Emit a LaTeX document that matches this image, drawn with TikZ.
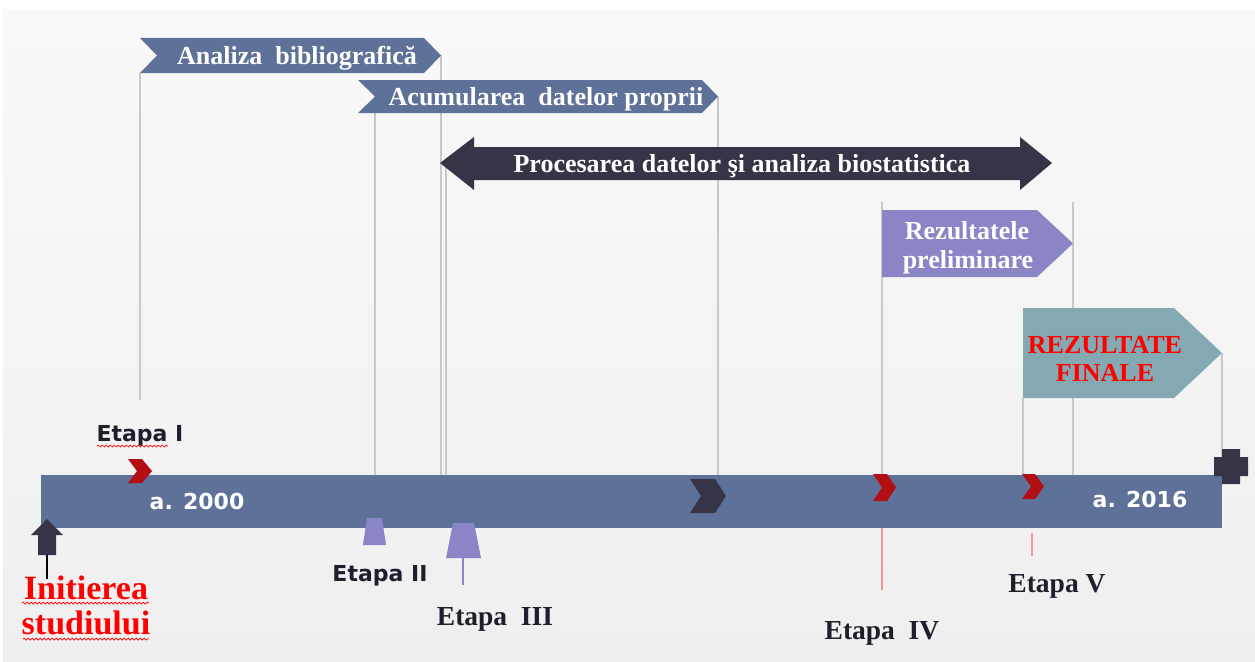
\documentclass[tikz,border=0pt]{standalone}
\usepackage{fontspec}
\setmainfont{Liberation Serif}
\newfontfamily\dvs{DejaVu Sans}
\usetikzlibrary{decorations.pathmorphing}
\definecolor{barblue}{RGB}{94,113,152}
\definecolor{darkc}{RGB}{54,52,70}
\definecolor{lav}{RGB}{138,133,199}
\definecolor{teal}{RGB}{132,169,178}
\definecolor{redc}{RGB}{178,14,20}
\definecolor{grayl}{RGB}{200,200,200}
\definecolor{pinkl}{RGB}{244,150,150}
\definecolor{txtd}{RGB}{30,30,44}
\begin{document}
\begin{tikzpicture}[x=1pt,y=-1pt,
  serifw/.style={font=\fontsize{26}{29}\selectfont\bfseries, text=white, anchor=base, inner sep=0pt},
  serifr/.style={font=\fontsize{26}{29}\selectfont\bfseries, text=red, anchor=base, inner sep=0pt},
  etsans/.style={font=\dvs\bfseries\fontsize{22}{24}\selectfont, text=txtd, anchor=base, inner sep=0pt},
  yearlbl/.style={font=\dvs\bfseries\fontsize{22}{24}\selectfont, text=white, anchor=base, inner sep=0pt},
  etserif/.style={font=\fontsize{27.5}{30}\selectfont\bfseries, text=txtd, anchor=base, inner sep=0pt},
  initlbl/.style={font=\fontsize{34}{36}\selectfont\bfseries, text=red, anchor=base, inner sep=0pt},
  guide/.style={draw=grayl, line width=1.2pt},
  pinkguide/.style={draw=pinkl, line width=1.2pt},
  wavy/.style={draw=red, line width=0.7pt, decorate, decoration={snake, segment length=4pt, amplitude=1pt}}
]
\useasboundingbox (0,0) rectangle (1255,661);
\fill[white] (0,0) rectangle (1255,661);
\shade[top color={rgb,255:red,249;green,249;blue,249}, bottom color={rgb,255:red,239;green,239;blue,239}] (3,10) rectangle (1255,661);

% coordinates for guide lines
\coordinate (anaL) at (140,73);   \coordinate (anaLe) at (140,400);
\coordinate (anaR) at (441,55);   \coordinate (anaRe) at (441,475);
\coordinate (acuL) at (375,113);  \coordinate (acuLe) at (375,475);
\coordinate (acuR) at (718,97);   \coordinate (acuRe) at (718,475);
\coordinate (proL) at (446,163);  \coordinate (proLe) at (446,475);
\coordinate (rezL) at (882,202);  \coordinate (rezLe) at (882,475);
\coordinate (rezR) at (1073,202); \coordinate (rezRe) at (1073,475);
\coordinate (finL) at (1023,398); \coordinate (finLe) at (1023,475);
\coordinate (finR) at (1222,353); \coordinate (finRe) at (1222,457);
\coordinate (e4a) at (882,528);   \coordinate (e4b) at (882,590);
\coordinate (e5a) at (1032,533);  \coordinate (e5b) at (1032,556);
\coordinate (e3a) at (463,558);   \coordinate (e3b) at (463,585);
\coordinate (ina) at (47,555);    \coordinate (inb) at (47,579);

\draw[guide] (anaL) -- (anaLe);
\draw[guide] (anaR) -- (anaRe);
\draw[guide] (acuL) -- (acuLe);
\draw[guide] (acuR) -- (acuRe);
\draw[guide] (proL) -- (proLe);
\draw[guide] (rezL) -- (rezLe);
\draw[guide] (rezR) -- (rezRe);
\draw[guide] (finL) -- (finLe);
\draw[guide] (finR) -- (finRe);

% main bar
\fill[barblue] (41,475) rectangle (1222,528);

% top boxes
\fill[barblue] (140,38) -- (424,38) -- (441,55.5) -- (424,73) -- (140,73) -- (157,55.5) -- cycle;
\fill[barblue] (358,80) -- (702,80) -- (718,96.5) -- (702,113) -- (358,113) -- (375,96.5) -- cycle;
\fill[darkc] (440,163) -- (474,137) -- (474,147) -- (1020,147) -- (1020,137) -- (1052,163) -- (1020,190) -- (1020,180) -- (474,180) -- (474,190) -- cycle;
\fill[lav] (882,210) -- (1037,210) -- (1073,243.5) -- (1037,277) -- (882,277) -- cycle;
\fill[teal] (1023,308) -- (1174,308) -- (1222,353) -- (1174,398) -- (1023,398) -- cycle;

% markers on bar
\fill[redc] (128,459) -- (142,459) -- (152,471) -- (142,483) -- (128,483) -- (137,471) -- cycle;
\fill[redc] (873,474) -- (887,474) -- (896,487.5) -- (887,501) -- (873,501) -- (882,487.5) -- cycle;
\fill[redc] (1022,474) -- (1035,474) -- (1044,486.5) -- (1035,499) -- (1022,499) -- (1031,486.5) -- cycle;
\fill[darkc] (690,479) -- (715,479) -- (726,496) -- (715,513) -- (690,513) -- (701,496) -- cycle;
\fill[darkc] (1222,449) -- (1240,449) -- (1240,457) -- (1248,457) -- (1248,476) -- (1240,476) -- (1240,484) -- (1222,484) -- (1222,476) -- (1214,476) -- (1214,457) -- (1222,457) -- cycle;
\fill[darkc] (47,519) -- (63,535) -- (56,535) -- (56,555) -- (38,555) -- (38,535) -- (31,535) -- cycle;
\fill[lav] (367,518) -- (382,518) -- (386,545) -- (363,545) -- cycle;
\fill[lav] (453,523) -- (474,523) -- (481,558) -- (446,558) -- cycle;

\draw[pinkguide] (e4a) -- (e4b);
\draw[pinkguide] (e5a) -- (e5b);
\draw[draw=lav, line width=1.5pt] (e3a) -- (e3b);
\draw[draw=black, line width=1.2pt] (ina) -- (inb);

% texts
\node[serifw] (tana) at (297,64) {Analiza\ \ bibliografică};
\node[serifw] (tacu) at (546,105.5) {Acumularea\ \ datelor proprii};
\node[serifw] (tpro) at (742,172) {Procesarea datelor şi analiza biostatistica};
\node[serifw] (trez1) at (967,239) {Rezultatele};
\node[serifw] (trez2) at (968,268) {preliminare};
\node[serifr] (tfin1) at (1105,353) {REZULTATE};
\node[serifr] (tfin2) at (1105,381) {FINALE};

\node[etsans] (et1) at (140,441) {Etapa I};
\node[yearlbl] (y0) at (197,509) {a. 2000};
\node[yearlbl] (y16) at (1140,507) {a. 2016};
\node[etsans] (et2) at (380,581) {Etapa II};
\node[etserif] (et3) at (495,625) {Etapa\ \ III};
\node[etserif] (et4) at (882,639) {Etapa\ \ IV};
\node[etserif] (et5) at (1057,592) {Etapa V};
\node[initlbl] (in1) at (86,599) {Initierea};
\node[initlbl] (in2) at (86,634) {studiului};

\coordinate (w1a) at (97,446);  \coordinate (w1b) at (168,446);
\coordinate (w2a) at (22,603);  \coordinate (w2b) at (149,603);
\coordinate (w3a) at (23,639);  \coordinate (w3b) at (149,639);
\draw[wavy] (w1a) -- (w1b);
\draw[wavy] (w2a) -- (w2b);
\draw[wavy] (w3a) -- (w3b);
\end{tikzpicture}
\end{document}
